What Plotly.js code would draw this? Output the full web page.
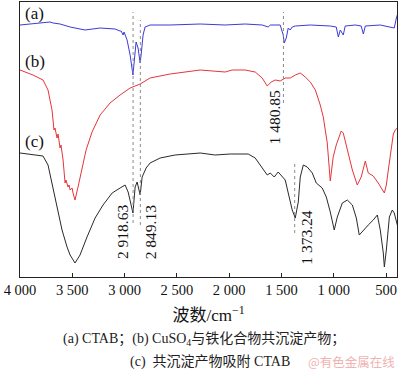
<!DOCTYPE html>
<html><head><meta charset="utf-8">
<script src="https://cdn.plot.ly/plotly-3.0.1.min.js"></script>
<style>html,body{margin:0;padding:0;background:#fff}#plot{width:400px;height:374px}</style>
</head><body><div id="plot"></div>
<script>
// (a) CTAB
const wnA = [4000,3876,3761,3713,3684,3617,3521,3378,3234,3091,3043,3033,3014,3005,2976,2947,2920,2899,2890,2871,2851,2842,2823,2804,2756,2564,2277,2038,1847,1684,1627,1607,1512,1483,1473,1454,1435,1416,1397,1368,1224,1033,976,956,937,909,890,794,737,717,698,555,440,421,401,392];
const tA  = [252,253,254,255,254,253,250,247,249,248,246,246,242,245,237,222,202,232,235,229,214,222,242,250,252,252,253,252,253,252,250,252,252,242,234,239,249,247,250,251,252,251,250,240,247,242,251,252,251,243,251,252,250,249,259,262];
// (b) CuSO4 co-precipitate
const wnB = [4000,3876,3780,3732,3694,3675,3665,3655,3646,3636,3617,3608,3598,3588,3569,3560,3541,3531,3521,3502,3493,3474,3445,3407,3368,3311,3234,3139,3043,2947,2851,2756,2564,2277,2038,1971,1847,1751,1684,1636,1598,1559,1512,1464,1416,1368,1320,1272,1224,1176,1129,1100,1062,1033,1005,976,928,909,870,822,775,737,698,670,622,574,516,497,478,449,430,411,392];
const tB  = [207,202,197,187,167,147,149,144,139,143,129,132,125,117,94,97,90,92,87,89,84,77,90,107,127,145,162,174,182,189,193,199,203,207,205,207,207,205,199,191,195,197,196,199,199,202,204,200,195,187,172,160,134,96,120,132,146,144,127,107,92,100,116,104,101,94,84,92,107,127,143,147,149];
// (c) co-precipitate adsorbed CTAB
const wnC = [4000,3780,3732,3694,3646,3598,3550,3521,3474,3426,3359,3282,3206,3119,3043,2995,2966,2947,2920,2899,2880,2851,2832,2794,2756,2660,2517,2277,2134,1990,1818,1751,1684,1636,1607,1569,1531,1492,1464,1435,1397,1368,1339,1320,1291,1253,1205,1167,1110,1071,1033,995,966,918,870,822,784,756,717,670,622,583,555,526,516,497,468,440,421,401,392];
const tC  = [124,121,112,94,70,47,30,22,14,22,40,59,72,84,89,92,85,77,64,90,95,82,100,109,114,119,122,124,122,123,123,119,109,102,104,100,105,100,97,84,67,59,75,100,112,110,104,94,89,80,65,47,60,74,77,72,59,42,47,52,57,62,47,24,10,27,60,67,64,54,52];
// marked peaks
const peakWn = [2918.63, 2849.13, 1480.85, 1373.24];
const peakText = ['2 918.63', '2 849.13', '1 480.85', '1 373.24'];
// axis ticks
const tickVals = [4000,3500,3000,2500,2000,1500,1000,500];
const tickText = ['4 000','3 500','3 000','2 500','2 000','1 500','1 000','500'];
const curveLabels = ['(a)','(b)','(c)'];

const serif = 'Liberation Serif, Times New Roman, Noto Sans CJK SC, serif';
const traces = [
  {x: wnA, y: tA, mode:'lines', line:{color:'#3b3bd8', width:1}, hoverinfo:'skip'},
  {x: wnB, y: tB, mode:'lines', line:{color:'#e8343a', width:1}, hoverinfo:'skip'},
  {x: wnC, y: tC, mode:'lines', line:{color:'#2a2a2a', width:1}, hoverinfo:'skip'}
];
// dotted guide extents (y) and label placement per peak
const lineY = [[54,265],[52,257],[174,265],[44,115]];
const labY = [45, 45, 160, 40];
const labShift = [-11, 10, -9, 11];
const shapes = peakWn.map((w,i)=>({type:'line', xref:'x', yref:'y', x0:w, x1:w, y0:lineY[i][0], y1:lineY[i][1], line:{color:'#8a8a8a', width:1, dash:'dot'}}));
const annotations = peakWn.map((w,i)=>({x:w, y:labY[i], xref:'x', yref:'y', text:peakText[i], showarrow:false, textangle:-90, xshift:labShift[i], font:{family:serif, size:15.5, color:'#111'}}));
const labPY = [0.96, 0.785, 0.491];
curveLabels.forEach((t,i)=>annotations.push({x:0.008, y:labPY[i], xref:'paper', yref:'paper', xanchor:'left', yanchor:'middle', text:t, showarrow:false, font:{family:serif, size:17, color:'#111'}}));
annotations.push({x:0.487, y:-0.229, xref:'paper', yref:'paper', xanchor:'center', yanchor:'middle', showarrow:false, text:'(a) CTAB；(b) CuSO<sub>4</sub>与铁化合物共沉淀产物；', font:{family:serif, size:14, color:'#222'}});
annotations.push({x:0.504, y:-0.309, xref:'paper', yref:'paper', xanchor:'center', yanchor:'middle', showarrow:false, text:'(c)  共沉淀产物吸附 CTAB', font:{family:serif, size:14, color:'#222'}});
annotations.push({x:1.0, y:-0.309, xref:'paper', yref:'paper', xanchor:'right', yanchor:'middle', showarrow:false, text:'@有色金属在线', font:{family:'Noto Sans CJK SC, sans-serif', size:12.5, color:'#efb3b3'}});

const layout = {
  width:400, height:374,
  margin:{l:20, r:3, t:2, b:97},
  paper_bgcolor:'#fff', plot_bgcolor:'#fff',
  showlegend:false,
  xaxis:{range:[4000,395], tickvals:tickVals, ticktext:tickText, ticks:'inside', ticklen:4, tickcolor:'#222',
         showline:true, linecolor:'#222', linewidth:1, mirror:true, showgrid:false, zeroline:false,
         tickfont:{family:serif, size:14.5, color:'#111'},
         title:{text:'波数/cm<sup>−1</sup>', font:{family:serif, size:17, color:'#111'}, standoff:11}},
  yaxis:{range:[0,275], showticklabels:false, ticks:'', showline:true, linecolor:'#222', linewidth:1, mirror:true, showgrid:false, zeroline:false},
  shapes: shapes,
  annotations: annotations
};
Plotly.newPlot('plot', traces, layout, {staticPlot:true, displayModeBar:false});
</script></body></html>
